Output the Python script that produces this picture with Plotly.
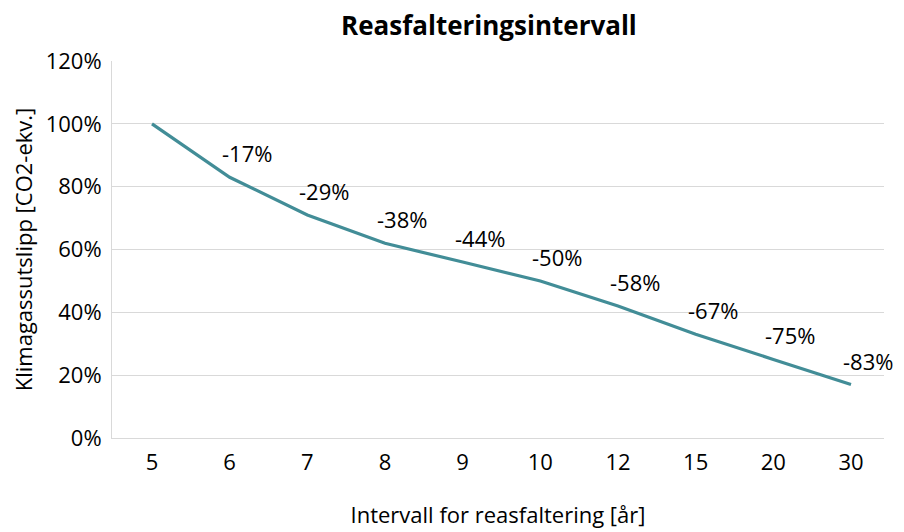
import plotly.graph_objects as go

# Reasfalteringsintervall (år) og relativt klimagassutslipp
intervals = ["5", "6", "7", "8", "9", "10", "12", "15", "20", "30"]
emissions = [100, 83, 71, 62, 56, 50, 42, 33, 25, 17]
reductions = ["", "-17%", "-29%", "-38%", "-44%", "-50%", "-58%", "-67%", "-75%", "-83%"]
y_ticks = [0, 20, 40, 60, 80, 100, 120]

FONT = "Open Sans"
LINE_COLOR = "#428D97"
GRID = "#d9d9d9"

fig = go.Figure()
fig.add_trace(go.Scatter(
    x=intervals,
    y=emissions,
    mode="lines",
    line=dict(color=LINE_COLOR, width=3.2),
    hoverinfo="skip",
    showlegend=False,
))

# labels sit up and to the right of each point (x given as category index)
for i, (y, label) in enumerate(zip(emissions, reductions)):
    if not label:
        continue
    fig.add_annotation(
        x=i, y=y, text=label, showarrow=False,
        xshift=17, yshift=24,
        font=dict(family=FONT, size=22, color="#000000"),
    )

# page body adds an 8px offset, so margins are shifted to compensate
fig.update_layout(
    width=904,
    height=532,
    template="plotly_white",
    paper_bgcolor="white",
    plot_bgcolor="white",
    margin=dict(l=104, r=28, t=53, b=102, autoexpand=False),
    font=dict(family=FONT, size=22, color="#000000"),
    title=dict(
        text="<b>Reasfalteringsintervall</b>",
        x=0.532, xanchor="center",
        y=0.966, yanchor="middle",
        font=dict(family=FONT, size=26, color="#000000"),
    ),
)

fig.update_xaxes(
    type="category",
    range=[-0.515, 9.425],
    showgrid=False,
    showline=True,
    linecolor=GRID,
    linewidth=1,
    ticks="",
    ticklabelstandoff=5,
    tickfont=dict(family=FONT, size=22),
    title=dict(text="Intervall for reasfaltering [år]", standoff=32,
               font=dict(family=FONT, size=22)),
)

fig.update_yaxes(
    range=[0, 120],
    tickvals=y_ticks,
    ticktext=[f"{v}%" for v in y_ticks],
    showgrid=True,
    gridcolor=GRID,
    gridwidth=1,
    zeroline=False,
    showline=True,
    linecolor=GRID,
    linewidth=1,
    ticks="",
    ticklabelstandoff=5,
    tickfont=dict(family=FONT, size=22),
    title=dict(text="Klimagassutslipp [CO2-ekv.]", standoff=12,
               font=dict(family=FONT, size=22)),
)

fig.write_html("out.html")
